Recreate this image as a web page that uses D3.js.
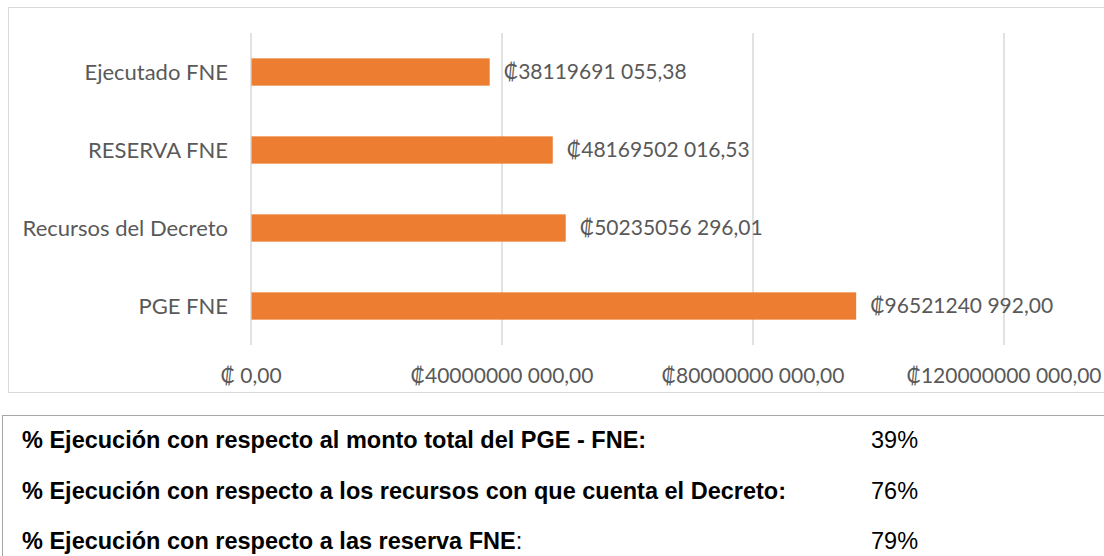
<!DOCTYPE html>
<html lang="es">
<head>
<meta charset="utf-8">
<title>Ejecución FNE</title>
<script src="https://cdn.jsdelivr.net/npm/d3@7"></script>
<style>
  body { margin: 0; background: #fff; }
  .lbl { font-family: Lato, "Open Sans", sans-serif; fill: #595959; font-size: 21px; }
  .cat { font-size: 22px; }
  .tbl { font-family: "Liberation Sans", Arial, sans-serif; font-size: 23.5px; fill: #000; }
</style>
</head>
<body>
<script>
// datos del grafico
var categorias = ["Ejecutado FNE", "RESERVA FNE", "Recursos del Decreto", "PGE FNE"];
var montos = [38119691055.38, 48169502016.53, 50235056296.01, 96521240992.00];
var ticksX = [0, 40000000000, 80000000000, 120000000000];

// tabla de porcentajes
var filasTexto = [
  "% Ejecución con respecto al monto total del PGE - FNE:",
  "% Ejecución con respecto a los recursos con que cuenta el Decreto:",
  "% Ejecución con respecto a las reserva FNE"
];
var filasPct = ["39%", "76%", "79%"];

var w = 1104, h = 556;

function colones(v) {
  var ent = Math.floor(v);
  var dec = Math.round((v - ent) * 100);
  var s = String(ent);
  var decs = (dec < 10 ? "0" : "") + dec;
  if (s.length <= 3) return "\u20A1 " + s + "," + decs;
  return "\u20A1" + s.slice(0, -3) + " " + s.slice(-3) + "," + decs;
}

var svg = d3.select("body").append("svg")
  .attr("width", w).attr("height", h);

// marco del grafico
svg.append("rect")
  .attr("x", 8.5).attr("y", 7.5)
  .attr("width", 1110).attr("height", 385)
  .attr("fill", "none").attr("stroke", "#d9d9d9");

var x = d3.scaleLinear().domain([0, 120000000000]).range([250.5, 1003.5]);
var y = d3.scaleBand().domain(categorias).range([33, 345]).paddingInner(0.65).paddingOuter(0.325);

// lineas de cuadricula
svg.append("g")
  .attr("transform", "translate(0,345)")
  .call(d3.axisBottom(x).tickValues(ticksX).tickSize(-312).tickFormat(""))
  .call(function(g) {
    g.select(".domain").remove();
    g.selectAll("line").attr("stroke", "#d9d9d9").attr("stroke-width", 1.5);
  });

// etiquetas eje x
svg.append("g")
  .attr("transform", "translate(0,376)")
  .call(d3.axisBottom(x).tickValues(ticksX).tickSize(0).tickPadding(0).tickFormat(colones))
  .call(function(g) {
    g.select(".domain").remove();
    g.selectAll("text").attr("class", "lbl").attr("dy", "0.35em");
  });

// barras
svg.selectAll("rect.bar")
  .data(montos)
  .enter().append("rect")
  .attr("class", "bar")
  .attr("x", x(0) + 1)
  .attr("y", function(d, i) { return y(categorias[i]); })
  .attr("width", function(d) { return x(d) - x(0) - 1; })
  .attr("height", y.bandwidth())
  .attr("fill", "#ED7D31");

// etiquetas eje y
svg.append("g")
  .attr("transform", "translate(228,0)")
  .call(d3.axisLeft(y).tickSize(0).tickPadding(0))
  .call(function(g) {
    g.select(".domain").remove();
    g.selectAll("text").attr("class", "lbl cat").attr("dy", "0.35em");
  });

// etiquetas de valor
svg.selectAll("text.val")
  .data(montos)
  .enter().append("text")
  .attr("class", "lbl val")
  .attr("x", function(d) { return x(d) + 14; })
  .attr("y", function(d, i) { return y(categorias[i]) + y.bandwidth() / 2; })
  .attr("dy", "0.35em")
  .text(colones);

// tabla inferior
svg.append("rect")
  .attr("x", 2.5).attr("y", 415.5)
  .attr("width", 1120).attr("height", 200)
  .attr("fill", "none").attr("stroke", "#a6a6a6");

var filas = svg.selectAll("g.fila")
  .data(filasTexto)
  .enter().append("g")
  .attr("class", "fila")
  .attr("transform", function(d, i) { return "translate(0," + (448 + i * 50.5) + ")"; });

filas.append("text")
  .attr("class", "tbl")
  .attr("x", 22)
  .attr("font-weight", "bold")
  .text(function(d) { return d; })
  .filter(function(d, i) { return i === 2; })
  .append("tspan").attr("font-weight", "normal").text(":");

filas.append("text")
  .attr("class", "tbl")
  .attr("x", 871)
  .text(function(d, i) { return filasPct[i]; });
</script>
</body>
</html>
